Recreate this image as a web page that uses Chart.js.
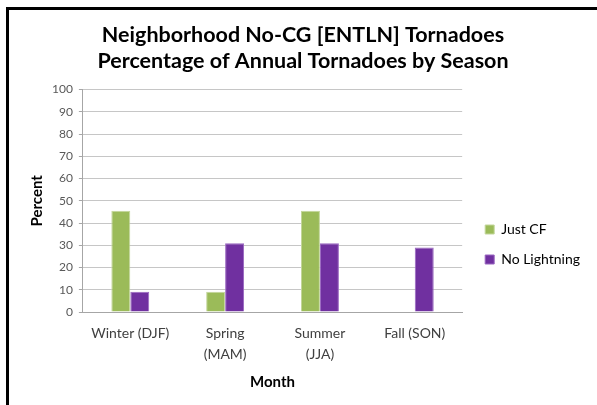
<!DOCTYPE html>
<html>
<head>
<meta charset="utf-8">
<script src="https://cdn.jsdelivr.net/npm/chart.js@4.4.0/dist/chart.umd.min.js"></script>
<style>
  html, body { margin: 0; padding: 0; background: #fff; overflow: hidden; }
  #frame {
    position: absolute; left: 6px; top: 7px; width: 591px; height: 398px;
    border-left: 3px solid #000; border-top: 3px solid #000; box-sizing: border-box;
  }
  #myChart { position: absolute; left: 9px; top: 10px; }
</style>
</head>
<body>
<div id="frame"></div>
<canvas id="myChart" width="588" height="395"></canvas>
<script>
var seasons = [["Winter (DJF)"], ["Spring", "(MAM)"], ["Summer", "(JJA)"], ["Fall (SON)"]];
var justCF = [45.5, 9.1, 45.5, 0];
var noLightning = [9.1, 30.9, 30.9, 29.0];
var yTicks = [0, 10, 20, 30, 40, 50, 60, 70, 80, 90, 100];

Chart.defaults.font.family = "Lato, 'Open Sans', sans-serif";

// nudge legend (lower, further right) and recentre title on the whole frame
var layoutNudge = {
  id: "layoutNudge",
  afterLayout: function (chart) {
    var l = chart.legend;
    l.left += 7; l.right += 7;
    l.top += 42; l.bottom += 42;
    var t = chart.titleBlock;
    t.left += 7; t.right += 7;
  }
};

var ctx = document.getElementById("myChart").getContext("2d");
var chart = new Chart(ctx, {
  type: "bar",
  data: {
    labels: seasons,
    datasets: [
      {
        label: "Just CF",
        backgroundColor: "#9BBB59",
        borderColor: "#C3D69B",
        borderWidth: 1,
        data: justCF
      },
      {
        label: "No Lightning",
        backgroundColor: "#7030A0",
        borderColor: "#9966C0",
        borderWidth: 1,
        data: noLightning
      }
    ]
  },
  options: {
    responsive: false,
    animation: false,
    layout: { padding: { left: 0, right: 14, top: 0, bottom: 10 } },
    datasets: { bar: { categoryPercentage: 0.4, barPercentage: 1.0 } },
    plugins: {
      title: {
        display: true,
        text: ["Neighborhood No-CG [ENTLN] Tornadoes", "Percentage of Annual Tornadoes by Season"],
        color: "#000",
        font: { size: 21.5, weight: "bold", lineHeight: 1.2 },
        padding: { top: 12, bottom: 16 }
      },
      legend: {
        position: "right",
        labels: {
          boxWidth: 9, boxHeight: 9, padding: 16,
          color: "#000",
          font: { size: 14 }
        }
      },
      tooltip: { enabled: false }
    },
    scales: {
      x: {
        grid: { display: false, drawTicks: false },
        border: { display: true, color: "#a6a6a6" },
        ticks: { color: "#404040", padding: 11, maxRotation: 0, font: { size: 14, lineHeight: 1.5 } },
        title: { display: true, text: "Month", color: "#000", font: { size: 15, weight: "bold", lineHeight: 1.2 }, padding: { top: -3, bottom: 4 } }
      },
      y: {
        min: 0, max: 100,
        afterBuildTicks: function (axis) {
          axis.ticks = yTicks.map(function (v) { return { value: v }; });
        },
        grid: { color: "#c6c6c6", lineWidth: 1, tickLength: 4, tickColor: "#a6a6a6" },
        border: { display: true, color: "#a6a6a6" },
        ticks: { color: "#595959", padding: 6, font: { size: 12 } },
        title: { display: true, text: "Percent", color: "#000", font: { size: 15, weight: "bold", lineHeight: 1.2 }, padding: { top: 19, bottom: 0 } }
      }
    }
  },
  plugins: [layoutNudge]
});
</script>
</body>
</html>
